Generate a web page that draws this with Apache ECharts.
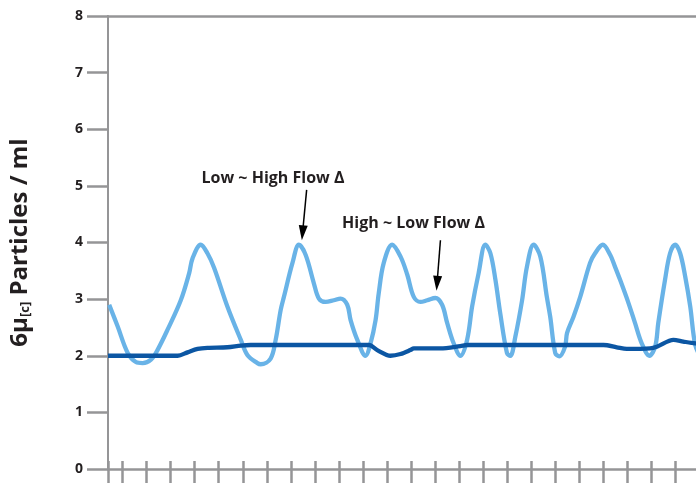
<!DOCTYPE html>
<html><head><meta charset="utf-8">
<script src="https://cdn.jsdelivr.net/npm/echarts@6/dist/echarts.min.js"></script>
<style>html,body{margin:0;padding:0;background:#fff}#c{width:696px;height:483px}</style>
</head><body><div id="c"></div>
<script>
// x in tick units (one tick spacing = 1), y in particles / ml
const xMin = -0.61;
const xMax = 23.87;
const xTicks = [-0.61,0,1,2,3,4,5,6,7,8,9,10,11,12,13,14,15,16,17,18,19,20,21,22,23];
const yTickLabels = ['0','1','2','3','4','5','6','7','8'];

const lightX = [-0.56,-0.21,0.21,0.55,0.83,1.18,1.45,1.87,2.42,2.77,2.91,3.25,3.53,3.81,4.36,4.92,5.20,5.61,5.75,6.16,6.37,6.58,6.72,7.07,7.34,7.62,7.96,8.17,8.45,8.79,9.07,9.35,9.49,9.77,10.11,10.32,10.53,10.66,10.87,11.22,11.57,11.85,12.12,12.40,12.68,13.02,13.30,13.51,13.78,14.06,14.34,14.55,14.82,15.10,15.31,15.52,15.72,16.00,16.14,16.35,16.63,16.83,17.11,17.39,17.66,17.80,18.01,18.18,18.42,18.50,18.77,19.05,19.46,19.67,19.99,20.30,20.50,20.71,21.06,21.33,21.61,21.93,22.17,22.30,22.58,22.79,23.00,23.21,23.42,23.63,23.84,24.10];
const lightY = [2.90,2.52,2.05,1.89,1.87,1.93,2.10,2.46,2.98,3.46,3.72,3.96,3.81,3.55,2.87,2.28,2.01,1.87,1.85,1.95,2.28,2.81,3.05,3.64,3.96,3.78,3.28,3.01,2.95,2.98,3.01,2.90,2.63,2.28,2.00,2.22,2.63,3.10,3.64,3.96,3.75,3.43,3.04,2.95,2.98,3.02,2.90,2.58,2.22,2.00,2.28,2.87,3.46,3.96,3.81,3.34,2.75,2.05,2.00,2.34,2.98,3.57,3.96,3.75,3.04,2.69,2.05,1.99,2.16,2.40,2.69,3.04,3.64,3.81,3.96,3.78,3.57,3.34,2.93,2.58,2.22,2.00,2.16,2.58,3.34,3.81,3.96,3.81,3.40,2.87,2.19,1.95];

const darkX = [-0.61,2.29,2.70,3.12,3.53,4.36,4.92,5.33,10.25,10.60,11.15,11.57,11.98,12.12,13.23,14.06,14.34,20.02,20.57,20.99,21.96,22.24,22.93,23.34,23.84,24.6];
const darkY = [2.00,2.00,2.06,2.12,2.14,2.15,2.18,2.19,2.19,2.10,2.00,2.03,2.10,2.13,2.13,2.17,2.19,2.19,2.15,2.12,2.13,2.16,2.28,2.25,2.22,2.21];

const annotTexts = ['Low ~ High Flow Δ', 'High ~ Low Flow Δ'];
const annotTextAt = [[6.26, 5.14], [12.11, 4.34]];
const arrowFrom = [[7.66, 4.93], [13.23, 4.04]];
const arrowTo = [[7.49, 4.17], [13.09, 3.28]];

const GRAY = '#959597';
const TEXT = '#231f20';
const FONT = '"Open Sans", sans-serif';

const zip = (xs, ys) => xs.map((x, i) => [x, ys[i]]);

const chart = echarts.init(document.getElementById('c'), null, {renderer: 'canvas'});
const baseX = {
  type: 'value', min: xMin, max: xMax,
  axisLabel: {show: false}, splitLine: {show: false}
};
chart.setOption({
  animation: false,
  backgroundColor: '#fff',
  grid: {left: 107, top: 16, bottom: 14, right: 0, containLabel: false},
  xAxis: [
    Object.assign({}, baseX, {
      position: 'bottom',
      axisLine: {show: true, onZero: false, lineStyle: {color: GRAY, width: 2.5}},
      axisTick: {show: true, inside: false, length: 14, customValues: xTicks, lineStyle: {color: GRAY, width: 2.5}}
    }),
    Object.assign({}, baseX, {
      position: 'bottom',
      axisLine: {show: false, onZero: false},
      axisTick: {show: true, inside: true, length: 8, customValues: xTicks, lineStyle: {color: GRAY, width: 2.5}}
    }),
    Object.assign({}, baseX, {
      position: 'top',
      axisLine: {show: true, onZero: false, lineStyle: {color: GRAY, width: 2.5}},
      axisTick: {show: false}
    })
  ],
  yAxis: {
    type: 'value', min: 0, max: 8, interval: 1,
    axisLine: {show: true, onZero: false, lineStyle: {color: GRAY, width: 2}},
    axisTick: {show: true, length: 21, lineStyle: {color: GRAY, width: 2.5}},
    axisLabel: {margin: 25, color: TEXT, fontWeight: 'bold', fontSize: 14, fontFamily: FONT,
      formatter: v => yTickLabels[Math.round(v)]},
    splitLine: {show: false},
    name: '{m|6μ}{s|[c]}{m| Particles / ml}',
    nameLocation: 'middle',
    nameGap: 76,
    nameTextStyle: {
      color: TEXT, fontWeight: 'bold', fontSize: 24, fontFamily: FONT,
      rich: {
        m: {color: TEXT, fontWeight: 'bold', fontSize: 24, fontFamily: FONT, verticalAlign: 'bottom', lineHeight: 28},
        s: {color: TEXT, fontWeight: 'bold', fontSize: 13, fontFamily: FONT, verticalAlign: 'bottom', lineHeight: 19}
      }
    }
  },
  series: [
    {
      type: 'line', name: 'Particles', data: zip(lightX, lightY),
      smooth: 0.35, showSymbol: false, symbol: 'none', clip: true,
      lineStyle: {color: '#69b3e7', width: 4.3},
      markLine: {
        silent: true, symbol: ['none', 'triangle'], symbolSize: [9, 15],
        lineStyle: {color: '#000', width: 1.5, type: 'solid'},
        label: {show: false},
        data: arrowFrom.map((f, i) => [{coord: f}, {coord: arrowTo[i]}])
      },
      markPoint: {
        silent: true, symbol: 'circle', symbolSize: 0,
        label: {show: true, position: 'inside', color: TEXT, fontWeight: 'bold', fontSize: 16, fontFamily: FONT,
          formatter: p => p.name},
        data: annotTexts.map((t, i) => ({name: t, coord: annotTextAt[i]}))
      }
    },
    {
      type: 'line', name: 'Baseline', data: zip(darkX, darkY),
      smooth: 0.3, showSymbol: false, symbol: 'none', clip: true,
      lineStyle: {color: '#0b56a3', width: 4.3}
    }
  ]
});
</script>
</body></html>
